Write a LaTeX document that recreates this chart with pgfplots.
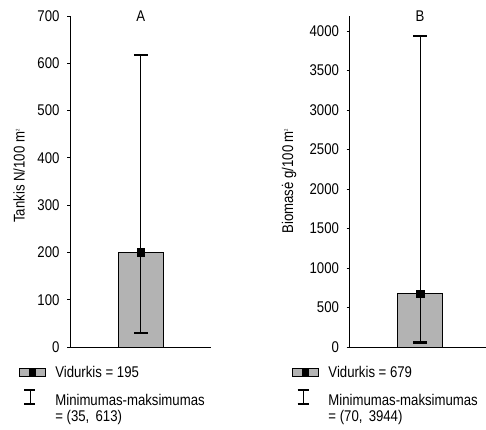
\documentclass[border=0pt]{standalone}
\usepackage{fontspec}
\setmainfont{Liberation Sans}[FakeStretch=0.85]
\usepackage{pgfplots}
\pgfplotsset{compat=1.18}
\definecolor{barfill}{HTML}{B3B3B3}
\newcommand{\chartfont}{\fontsize{15.5}{18.5}\selectfont}
\pgfplotsset{
  every axis title shift=0pt,
  myax/.style={
    scale only axis, height=331pt,
    axis x line*=bottom, axis y line*=left,
    xtick=\empty, ymin=0,
    tick align=outside, major tick length=3pt,
    ytick style={black, line width=0.8pt},
    axis line style={black, line width=1pt},
    tick label style={font=\chartfont},
    yticklabel style={xshift=-4pt},
    /pgf/number format/assume math mode=true,
    /pgf/number format/1000 sep={},
    label style={font=\chartfont},
    legend cell align=left,
    legend style={draw=none, fill=none, inner sep=0pt, outer sep=0pt,
      anchor=north west, row sep=0pt, column sep=10pt,
      nodes={inner sep=0pt, text height=11pt, text depth=5.5pt, font=\chartfont}},
  },
  boxlegend/.style={legend image code/.code={
    \draw[fill=barfill, line width=0.8pt] (0pt,1.3pt) rectangle (25.5pt,9.7pt);
    \fill[black] (9.5pt,2.5pt) rectangle (16pt,8.5pt);}},
  ibeam/.style={legend image code/.code={
    \path[draw=none] (0pt,5.5pt) rectangle (25.5pt,5.5pt);
    \draw[line width=0.8pt] (10.5pt,-1.5pt)--(10.5pt,12.5pt);
    \draw[line width=2pt] (5pt,12.5pt)--(16pt,12.5pt) (5pt,-1.5pt)--(16pt,-1.5pt);}},
  errstyle/.style={black, mark=none,
    error bars/.cd, y dir=both, y explicit, error mark=|,
    error bar style={black, line width=0.8pt},
    error mark options={black, line width=2.5pt, mark size=7pt}},
}
\begin{document}
\begin{tikzpicture}
\useasboundingbox (0,0) rectangle (486pt,429pt);
% Panel A
\begin{axis}[myax, at={(70pt,82pt)}, anchor=south west,
  width=140.7pt, xmin=-1, xmax=1, ymax=700, ytick={0,100,...,700},
  title={A}, title style={at={(axis description cs:0.503,1.0)}, anchor=center, yshift=0pt, font=\chartfont},
  ylabel={Tankis N/100 m\textsuperscript{\tiny 2}},
  ylabel style={at={(axis description cs:-0.362,0.517)}, anchor=center},
  legend style={at={(axis description cs:-0.362,-0.0604)}},
]
\addplot[ybar, bar width=45pt, fill=barfill, draw=black, line width=0.8pt, forget plot] coordinates {(0.006,200)};
\addplot[forget plot, errstyle] coordinates {(0.006,200) += (0,417) -= (0,170)};
\addplot[only marks, mark=square*, mark size=3.8pt, black, forget plot] coordinates {(0.006,200)};
\addlegendimage{boxlegend}
\addlegendentry[text depth=11pt]{Vidurkis = 195}
\addlegendimage{ibeam}
\addlegendentry{Minimumas-maksimumas}
\addlegendimage{empty legend}
\addlegendentry{= (35,\, 613)}
\end{axis}
% Panel B
\begin{axis}[myax, at={(349.5pt,82pt)}, anchor=south west,
  width=136.5pt, xmin=-1.033, xmax=0.967, ymax=4190, ytick={0,500,...,4000},
  title={B}, title style={at={(axis description cs:0.516,1.0)}, anchor=center, yshift=0pt, font=\chartfont},
  ylabel={Biomasė g/100 m\textsuperscript{\tiny 2}},
  ylabel style={at={(axis description cs:-0.443,0.502)}, anchor=center},
  legend style={at={(axis description cs:-0.42,-0.0604)}},
]
\addplot[ybar, bar width=45pt, fill=barfill, draw=black, line width=0.8pt, forget plot] coordinates {(0,675)};
\addplot[forget plot, errstyle] coordinates {(0,675) += (0,3262) -= (0,617)};
\addplot[only marks, mark=square*, mark size=3.8pt, black, forget plot] coordinates {(0,675)};
\addlegendimage{boxlegend}
\addlegendentry[text depth=11pt]{Vidurkis = 679}
\addlegendimage{ibeam}
\addlegendentry{Minimumas-maksimumas}
\addlegendimage{empty legend}
\addlegendentry{= (70,\, 3944)}
\end{axis}
\end{tikzpicture}
\end{document}
